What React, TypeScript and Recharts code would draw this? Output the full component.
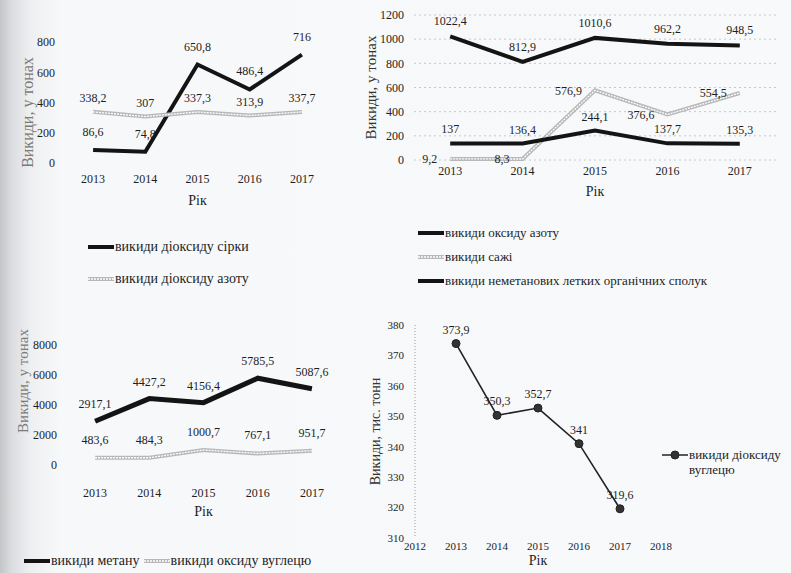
import { LineChart, Line, XAxis, YAxis, CartesianGrid, Legend, LabelList } from 'recharts';

const YEARS = [2013, 2014, 2015, 2016, 2017];
const SO2 = [86.6, 74.8, 650.8, 486.4, 716];
const NO2 = [338.2, 307, 337.3, 313.9, 337.7];
const NOX = [1022.4, 812.9, 1010.6, 962.2, 948.5];
const SOOT = [9.2, 8.3, 576.9, 376.6, 554.5];
const NMVOC = [137, 136.4, 244.1, 137.7, 135.3];
const CH4 = [2917.1, 4427.2, 4156.4, 5785.5, 5087.6];
const CO = [483.6, 484.3, 1000.7, 767.1, 951.7];
const CO2 = [373.9, 350.3, 352.7, 341, 319.6];

const TICKS_1 = [0, 200, 400, 600, 800];
const TICKS_2 = [0, 200, 400, 600, 800, 1000, 1200];
const TICKS_3 = [0, 2000, 4000, 6000, 8000];
const TICKS_4 = [310, 320, 330, 340, 350, 360, 370, 380];
const YEAR_TICKS_4 = [2012, 2013, 2014, 2015, 2016, 2017, 2018];

const NAMES_1 = ['викиди діоксиду сірки', 'викиди діоксиду азоту'];
const NAMES_2 = ['викиди оксиду азоту', 'викиди сажі', 'викиди неметанових летких органічних сполук'];
const NAMES_3 = ['викиди метану', 'викиди оксиду вуглецю'];
const NAMES_4 = ['викиди діоксиду вуглецю'];

const data1 = YEARS.map((year, i) => ({ year, so2: SO2[i], no2: NO2[i] }));
const data2 = YEARS.map((year, i) => ({ year, nox: NOX[i], soot: SOOT[i], nmvoc: NMVOC[i] }));
const data3 = YEARS.map((year, i) => ({ year, ch4: CH4[i], co: CO[i] }));
const data4 = YEARS.map((year, i) => ({ year, co2: CO2[i] }));

const FONT = "'Liberation Serif', serif";
const INK = '#1e1e1e';
const GRAY = '#b8b8b8';
const BLACK = '#141414';

const fmt = (v: unknown) => String(v).replace('.', ',');
const tick = (size = 12) => ({ fontSize: size, fill: INK, fontFamily: FONT });
const labelStyle = { fontSize: 12, fill: INK, fontFamily: FONT };

// black thick series
function blackLine(key: string, name: string, width = 4, offset = 12) {
  return (
    <Line key={key} type="linear" dataKey={key} name={name} stroke={BLACK} strokeWidth={width}
      dot={false} isAnimationActive={false}>
      <LabelList dataKey={key} position="top" offset={offset} formatter={fmt} fontFamily={FONT} style={labelStyle} />
    </Line>
  );
}

// light gray "hollow" series, drawn as a wide gray stroke with a thin white core
function grayLine(key: string, name: string, pos: 'top' | 'left' = 'top', offset = 12) {
  return [
    <Line key={key} type="linear" dataKey={key} name={name} stroke={GRAY} strokeWidth={4}
      dot={false} isAnimationActive={false}>
      <LabelList dataKey={key} position={pos} offset={offset} formatter={fmt} fontFamily={FONT} style={labelStyle} />
    </Line>,
    <Line key={key + '-core'} type="linear" dataKey={key} name="core" stroke="#ffffff" strokeWidth={1.3}
      strokeDasharray="2 1" dot={false} legendType="none" isAnimationActive={false} />,
  ];
}

function Swatch({ color, dotted }: { color: string; dotted?: boolean }) {
  if (dotted) {
    return (
      <svg width={26} height={10} style={{ flex: 'none' }}>
        <line x1={0} y1={5} x2={26} y2={5} stroke="#222" strokeWidth={1.5} />
        <circle cx={13} cy={5} r={4} fill="#333" stroke="#222" />
      </svg>
    );
  }
  return (
    <svg width={26} height={10} style={{ flex: 'none' }}>
      <line x1={0} y1={5} x2={26} y2={5} stroke={color} strokeWidth={4} />
      {color === GRAY && <line x1={0} y1={5} x2={26} y2={5} stroke="#fff" strokeWidth={1.3} strokeDasharray="2 1" />}
    </svg>
  );
}

function legendContent(names: string[], direction: 'row' | 'column', gap: number, fontSize: number, dotted = false, textWidth?: number) {
  return (props: any) => {
    const items = (props.payload || [])
      .filter((item: any) => names.includes(item.value))
      .sort((a: any, b: any) => names.indexOf(a.value) - names.indexOf(b.value));
    return (
      <div style={{ display: 'flex', flexDirection: direction, gap, fontFamily: FONT, fontSize, color: INK }}>
        {items.map((item: any) => (
          <div key={item.value} style={{ display: 'flex', alignItems: 'flex-start' }}>
            <div style={{ height: fontSize + 2, display: 'flex', alignItems: 'center' }}>
              <Swatch color={item.color} dotted={dotted} />
            </div>
            <span style={{ marginLeft: 1, lineHeight: `${fontSize + 2}px`, width: textWidth, fontFamily: FONT }}>{item.value}</span>
          </div>
        ))}
      </div>
    );
  };
}

const yTitle = (value: string, offset: number, size = 15, color = '#333', dy = 0) => ({
  value, angle: -90, position: 'insideLeft' as const, offset, fontFamily: FONT, dy,
  style: { textAnchor: 'middle', fontSize: size, fill: color, fontFamily: FONT },
});
const xTitle = (offset: number) => ({
  value: 'Рік', position: 'insideTop' as const, offset, fontFamily: FONT,
  style: { fontSize: 14, fill: INK, fontFamily: FONT },
});

export default function App() {
  return (
    <div style={{
      position: 'absolute', left: 0, top: 0, width: 791, height: 573, overflow: 'hidden', fontFamily: FONT,
      background: 'linear-gradient(to right, #c4c5c7 0px, #dcdde0 12px, #eeeff1 30px, #f7f8fa 60px, #f8f9fb 100%)',
    }}>
      {/* top left: SO2 / NO2 */}
      <div style={{ position: 'absolute', left: 0, top: 0 }}>
        <LineChart width={360} height={300} data={data1} margin={{ top: 42, right: 32, left: 0, bottom: 0 }} style={{ fontFamily: FONT }}>
          <XAxis dataKey="year" type="number" domain={[2012.5, 2017.5]} ticks={YEARS} axisLine={false}
            tickLine={false} tickSize={0} tickMargin={11} height={137} tick={tick(12)} label={xTitle(32)} />
          <YAxis type="number" domain={[0, 800]} ticks={TICKS_1} axisLine={false} tickLine={false}
            tickSize={0} tickMargin={12} width={67} tick={tick(12)} label={yTitle('Викиди, у тонах', 27, 16, '#7a7a7a', 10)} />
          {blackLine('so2', NAMES_1[0], 4, 14)}
          {grayLine('no2', NAMES_1[1], 'top', 10)}
          <Legend layout="horizontal" verticalAlign="middle" align="center"
            wrapperStyle={{ left: 88, top: 239, width: 260 }} content={legendContent(NAMES_1, 'column', 16, 14)} />
        </LineChart>
      </div>

      {/* top right: NOx / soot / NMVOC */}
      <div style={{ position: 'absolute', left: 360, top: 0 }}>
        <LineChart width={431} height={300} data={data2} margin={{ top: 15, right: 15, left: 0, bottom: 0 }} style={{ fontFamily: FONT }}>
          <CartesianGrid vertical={false} stroke="#c8c8c8" strokeDasharray="2 3" />
          <XAxis dataKey="year" type="number" domain={[2012.5, 2017.5]} ticks={YEARS} axisLine={false}
            tickLine={false} tickSize={0} tickMargin={6} height={140} tick={tick(12)} label={xTitle(26)} />
          <YAxis type="number" domain={[0, 1200]} ticks={TICKS_2} axisLine={false} tickLine={false}
            tickSize={0} tickMargin={10} width={54} tick={tick(12)} label={yTitle('Викиди, у тонах', 11)} />
          {blackLine('nox', NAMES_2[0], 4, 11)}
          {grayLine('soot', NAMES_2[1], 'left', 13)}
          {blackLine('nmvoc', NAMES_2[2], 4, 10)}
          <Legend layout="horizontal" verticalAlign="middle" align="center"
            wrapperStyle={{ left: 58, top: 225, width: 360 }} content={legendContent(NAMES_2, 'column', 9, 13)} />
        </LineChart>
      </div>

      {/* bottom left: CH4 / CO */}
      <div style={{ position: 'absolute', left: 0, top: 320 }}>
        <LineChart width={380} height={253} data={data3} margin={{ top: 25, right: 41, left: 0, bottom: 0 }} style={{ fontFamily: FONT }}>
          <XAxis dataKey="year" type="number" domain={[2012.5, 2017.5]} ticks={YEARS} axisLine={false}
            tickLine={false} tickSize={0} tickMargin={23} height={108} tick={tick(12)} label={xTitle(41)} />
          <YAxis type="number" domain={[0, 8000]} ticks={TICKS_3} axisLine={false} tickLine={false}
            tickSize={0} tickMargin={11} width={68} tick={tick(12)} label={yTitle('Викиди, у тонах', 23, 15, '#7a7a7a', -24)} />
          {blackLine('ch4', NAMES_3[0], 5, 13)}
          {grayLine('co', NAMES_3[1], 'top', 14)}
          <Legend layout="horizontal" verticalAlign="middle" align="center"
            wrapperStyle={{ left: 24, top: 233, width: 340 }} content={legendContent(NAMES_3, 'row', 4, 14)} />
        </LineChart>
      </div>

      {/* bottom right: CO2 */}
      <div style={{ position: 'absolute', left: 360, top: 300 }}>
        <LineChart width={431} height={273} data={data4} margin={{ top: 25, right: 130, left: 0, bottom: 0 }} style={{ fontFamily: FONT }}>
          <XAxis dataKey="year" type="number" domain={[2012, 2018]} ticks={YEAR_TICKS_4} axisLine={false}
            tickLine={false} tickSize={0} tickMargin={4} height={35} tick={tick(11)} label={xTitle(17)} />
          <YAxis type="number" domain={[310, 380]} ticks={TICKS_4} axisLine={{ stroke: '#9a9a9a', strokeDasharray: '1 2' }}
            tickLine={false} tickSize={0} tickMargin={11} width={55} tick={tick(11)} label={yTitle('Викиди, тис. тонн', 15, 14)} />
          <Line type="linear" dataKey="co2" name={NAMES_4[0]} stroke="#222" strokeWidth={1.6}
            dot={{ r: 4, fill: '#333', stroke: '#222', strokeWidth: 1 }} isAnimationActive={false}>
            <LabelList dataKey="co2" position="top" offset={10} formatter={fmt} fontFamily={FONT} style={labelStyle} />
          </Line>
          <Legend layout="horizontal" verticalAlign="middle" align="center"
            wrapperStyle={{ left: 302, top: 147, width: 128 }} content={legendContent(NAMES_4, 'column', 0, 13, true, 100)} />
        </LineChart>
      </div>
    </div>
  );
}
